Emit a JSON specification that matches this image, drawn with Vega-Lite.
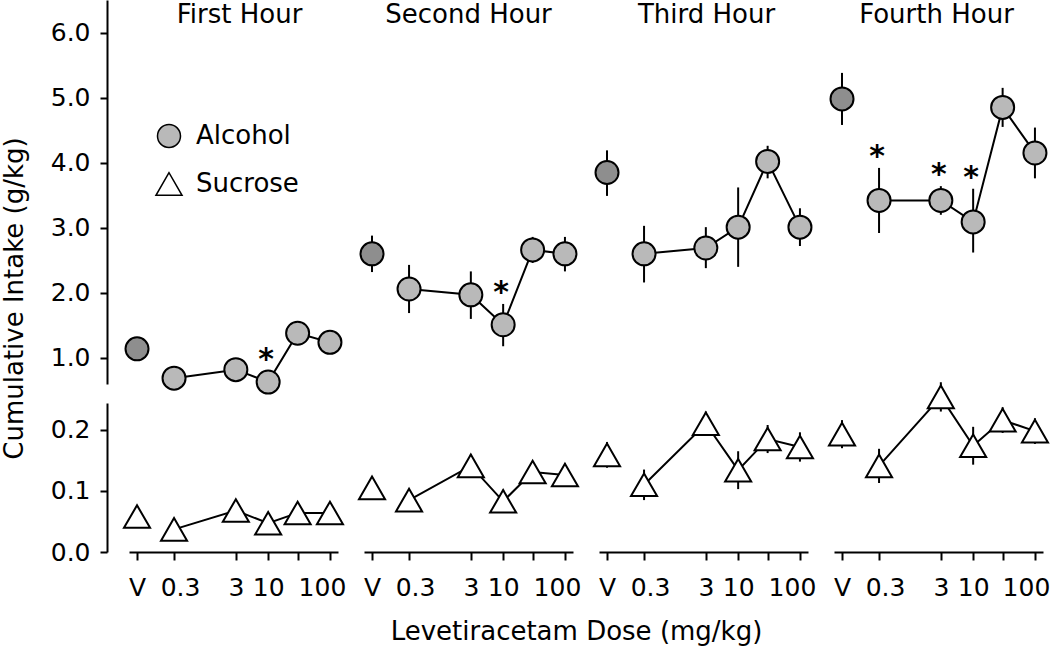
{
  "$schema": "https://vega.github.io/schema/vega-lite/v6.json",
  "padding": {"left": 1, "top": 0, "right": 5, "bottom": 5},
  "background": "white",
  "datasets": {
    "d": [
      {"hour": "First Hour", "substance": "Alcohol", "lab": "V", "dose": 0.0755, "mean": 1.14, "lo": 1.06, "hi": 1.22, "sig": false},
      {"hour": "First Hour", "substance": "Alcohol", "lab": "0.3", "dose": 0.3, "mean": 0.69, "lo": 0.61, "hi": 0.77, "sig": false},
      {"hour": "First Hour", "substance": "Alcohol", "lab": "3", "dose": 3, "mean": 0.82, "lo": 0.74, "hi": 0.9, "sig": false},
      {"hour": "First Hour", "substance": "Alcohol", "lab": "10", "dose": 10, "mean": 0.63, "lo": 0.46, "hi": 0.8, "sig": true},
      {"hour": "First Hour", "substance": "Alcohol", "lab": "30", "dose": 30, "mean": 1.38, "lo": 1.3, "hi": 1.46, "sig": false},
      {"hour": "First Hour", "substance": "Alcohol", "lab": "100", "dose": 100, "mean": 1.24, "lo": 1.16, "hi": 1.32, "sig": false},
      {"hour": "Second Hour", "substance": "Alcohol", "lab": "V", "dose": 0.0755, "mean": 2.6, "lo": 2.32, "hi": 2.88, "sig": false},
      {"hour": "Second Hour", "substance": "Alcohol", "lab": "0.3", "dose": 0.3, "mean": 2.06, "lo": 1.69, "hi": 2.43, "sig": false},
      {"hour": "Second Hour", "substance": "Alcohol", "lab": "3", "dose": 3, "mean": 1.97, "lo": 1.6, "hi": 2.33, "sig": false},
      {"hour": "Second Hour", "substance": "Alcohol", "lab": "10", "dose": 10, "mean": 1.51, "lo": 1.18, "hi": 1.83, "sig": true},
      {"hour": "Second Hour", "substance": "Alcohol", "lab": "30", "dose": 30, "mean": 2.66, "lo": 2.46, "hi": 2.86, "sig": false},
      {"hour": "Second Hour", "substance": "Alcohol", "lab": "100", "dose": 100, "mean": 2.6, "lo": 2.33, "hi": 2.86, "sig": false},
      {"hour": "Third Hour", "substance": "Alcohol", "lab": "V", "dose": 0.0755, "mean": 3.85, "lo": 3.49, "hi": 4.19, "sig": false},
      {"hour": "Third Hour", "substance": "Alcohol", "lab": "0.3", "dose": 0.3, "mean": 2.6, "lo": 2.16, "hi": 3.03, "sig": false},
      {"hour": "Third Hour", "substance": "Alcohol", "lab": "3", "dose": 3, "mean": 2.69, "lo": 2.38, "hi": 3.01, "sig": false},
      {"hour": "Third Hour", "substance": "Alcohol", "lab": "10", "dose": 10, "mean": 3.01, "lo": 2.4, "hi": 3.62, "sig": false},
      {"hour": "Third Hour", "substance": "Alcohol", "lab": "30", "dose": 30, "mean": 4.02, "lo": 3.76, "hi": 4.26, "sig": false},
      {"hour": "Third Hour", "substance": "Alcohol", "lab": "100", "dose": 100, "mean": 3.01, "lo": 2.72, "hi": 3.3, "sig": false},
      {"hour": "Fourth Hour", "substance": "Alcohol", "lab": "V", "dose": 0.0755, "mean": 4.98, "lo": 4.58, "hi": 5.38, "sig": false},
      {"hour": "Fourth Hour", "substance": "Alcohol", "lab": "0.3", "dose": 0.3, "mean": 3.42, "lo": 2.92, "hi": 3.92, "sig": true},
      {"hour": "Fourth Hour", "substance": "Alcohol", "lab": "3", "dose": 3, "mean": 3.42, "lo": 3.2, "hi": 3.64, "sig": true},
      {"hour": "Fourth Hour", "substance": "Alcohol", "lab": "10", "dose": 10, "mean": 3.09, "lo": 2.62, "hi": 3.6, "sig": true},
      {"hour": "Fourth Hour", "substance": "Alcohol", "lab": "30", "dose": 30, "mean": 4.85, "lo": 4.55, "hi": 5.15, "sig": false},
      {"hour": "Fourth Hour", "substance": "Alcohol", "lab": "100", "dose": 100, "mean": 4.15, "lo": 3.76, "hi": 4.54, "sig": false},
      {"hour": "First Hour", "substance": "Sucrose", "lab": "V", "dose": 0.0755, "mean": 0.058, "lo": 0.05, "hi": 0.066, "sig": false},
      {"hour": "First Hour", "substance": "Sucrose", "lab": "0.3", "dose": 0.3, "mean": 0.037, "lo": 0.03, "hi": 0.044, "sig": false},
      {"hour": "First Hour", "substance": "Sucrose", "lab": "3", "dose": 3, "mean": 0.068, "lo": 0.06, "hi": 0.076, "sig": false},
      {"hour": "First Hour", "substance": "Sucrose", "lab": "10", "dose": 10, "mean": 0.047, "lo": 0.04, "hi": 0.054, "sig": false},
      {"hour": "First Hour", "substance": "Sucrose", "lab": "30", "dose": 30, "mean": 0.064, "lo": 0.056, "hi": 0.072, "sig": false},
      {"hour": "First Hour", "substance": "Sucrose", "lab": "100", "dose": 100, "mean": 0.064, "lo": 0.057, "hi": 0.071, "sig": false},
      {"hour": "Second Hour", "substance": "Sucrose", "lab": "V", "dose": 0.0755, "mean": 0.105, "lo": 0.096, "hi": 0.114, "sig": false},
      {"hour": "Second Hour", "substance": "Sucrose", "lab": "0.3", "dose": 0.3, "mean": 0.085, "lo": 0.068, "hi": 0.102, "sig": false},
      {"hour": "Second Hour", "substance": "Sucrose", "lab": "3", "dose": 3, "mean": 0.141, "lo": 0.122, "hi": 0.16, "sig": false},
      {"hour": "Second Hour", "substance": "Sucrose", "lab": "10", "dose": 10, "mean": 0.083, "lo": 0.064, "hi": 0.102, "sig": false},
      {"hour": "Second Hour", "substance": "Sucrose", "lab": "30", "dose": 30, "mean": 0.131, "lo": 0.114, "hi": 0.148, "sig": false},
      {"hour": "Second Hour", "substance": "Sucrose", "lab": "100", "dose": 100, "mean": 0.126, "lo": 0.107, "hi": 0.145, "sig": false},
      {"hour": "Third Hour", "substance": "Sucrose", "lab": "V", "dose": 0.0755, "mean": 0.159, "lo": 0.138, "hi": 0.18, "sig": false},
      {"hour": "Third Hour", "substance": "Sucrose", "lab": "0.3", "dose": 0.3, "mean": 0.11, "lo": 0.085, "hi": 0.135, "sig": false},
      {"hour": "Third Hour", "substance": "Sucrose", "lab": "3", "dose": 3, "mean": 0.21, "lo": 0.19, "hi": 0.23, "sig": false},
      {"hour": "Third Hour", "substance": "Sucrose", "lab": "10", "dose": 10, "mean": 0.134, "lo": 0.103, "hi": 0.165, "sig": false},
      {"hour": "Third Hour", "substance": "Sucrose", "lab": "30", "dose": 30, "mean": 0.185, "lo": 0.162, "hi": 0.208, "sig": false},
      {"hour": "Third Hour", "substance": "Sucrose", "lab": "100", "dose": 100, "mean": 0.172, "lo": 0.148, "hi": 0.196, "sig": false},
      {"hour": "Fourth Hour", "substance": "Sucrose", "lab": "V", "dose": 0.0755, "mean": 0.193, "lo": 0.17, "hi": 0.216, "sig": false},
      {"hour": "Fourth Hour", "substance": "Sucrose", "lab": "0.3", "dose": 0.3, "mean": 0.141, "lo": 0.113, "hi": 0.169, "sig": false},
      {"hour": "Fourth Hour", "substance": "Sucrose", "lab": "3", "dose": 3, "mean": 0.254, "lo": 0.23, "hi": 0.278, "sig": false},
      {"hour": "Fourth Hour", "substance": "Sucrose", "lab": "10", "dose": 10, "mean": 0.174, "lo": 0.143, "hi": 0.205, "sig": false},
      {"hour": "Fourth Hour", "substance": "Sucrose", "lab": "30", "dose": 30, "mean": 0.216, "lo": 0.195, "hi": 0.237, "sig": false},
      {"hour": "Fourth Hour", "substance": "Sucrose", "lab": "100", "dose": 100, "mean": 0.198, "lo": 0.177, "hi": 0.219, "sig": false}
    ]
  },
  "columns": 4,
  "spacing": {"row": 19, "column": 26},
  "bounds": "flush",
  "concat": [
    {
      "width": 209, "height": 384,
      "data": {"name": "d"},
      "transform": [{"filter": "datum.hour === 'First Hour' && datum.substance === 'Alcohol'"}],
      "encoding": {"x": {"field": "dose", "type": "quantitative", "scale": {"type": "log", "domain": [0.056, 135], "nice": false}, "axis": null}},
      "layer": [
        {"mark": {"type": "rule", "strokeWidth": 2, "color": "black"},
         "encoding": {"y": {"field": "lo", "type": "quantitative", "scale": {"domain": [0.6, 6.5], "nice": false, "zero": false},
           "axis": {"values": [1, 2, 3, 4, 5, 6], "format": ".1f", "offset": 22, "tickSize": 7, "labelPadding": 10, "title": "Cumulative Intake (g/kg)", "titleX": -85, "titleY": 298, "titleBaseline": "alphabetic", "titleAngle": 270, "titleAlign": "center"}},
           "y2": {"field": "hi"}}},
        {"transform": [{"filter": "datum.lab !== 'V'"}], "mark": {"type": "line", "strokeWidth": 2, "color": "black"}, "encoding": {"y": {"field": "mean", "type": "quantitative"}}},
        {"mark": {"type": "point", "filled": true, "opacity": 1, "stroke": "black", "strokeWidth": 2},
         "encoding": {"y": {"field": "mean", "type": "quantitative"},
           "shape": {"field": "substance", "type": "nominal", "scale": {"domain": ["Alcohol", "Sucrose"], "range": ["circle", "triangle-up"]}, "legend": {"title": null, "orient": "none", "legendX": 26, "legendY": 123, "direction": "vertical", "labelFontSize": 26, "labelFont": "DejaVu Sans", "labelColor": "black", "labelOffset": 13, "rowPadding": 18, "encode": {"symbols": {"update": {"stroke": {"value": "black"}, "strokeWidth": {"value": 2}}}}}},
           "fill": {"field": "substance", "type": "nominal", "scale": {"domain": ["Alcohol", "Sucrose"], "range": ["#b9b9b9", "#ffffff"]}, "condition": {"test": "datum.lab === 'V'", "value": "#8e8e8e"}, "legend": {"title": null, "orient": "none", "legendX": 26, "legendY": 123, "direction": "vertical", "labelFontSize": 26, "labelFont": "DejaVu Sans", "labelColor": "black", "labelOffset": 13, "rowPadding": 18, "encode": {"symbols": {"update": {"stroke": {"value": "black"}, "strokeWidth": {"value": 2}}}}}},
           "size": {"field": "substance", "type": "nominal", "scale": {"type": "ordinal", "domain": ["Alcohol", "Sucrose"], "range": [530, 680]}, "legend": {"title": null, "orient": "none", "legendX": 26, "legendY": 123, "direction": "vertical", "labelFontSize": 26, "labelFont": "DejaVu Sans", "labelColor": "black", "labelOffset": 13, "rowPadding": 18, "encode": {"symbols": {"update": {"stroke": {"value": "black"}, "strokeWidth": {"value": 2}}}}}}}},
        {"transform": [{"filter": "datum.sig"}], "mark": {"type": "text", "text": "*", "fontSize": 30, "fontWeight": "bold", "baseline": "alphabetic", "dy": -2, "dx": -2, "color": "black"}, "encoding": {"y": {"field": "hi", "type": "quantitative"}}},
        {"transform": [{"filter": "datum.lab === 'V'"}], "mark": {"type": "text", "fontSize": 26, "baseline": "alphabetic", "dy": 23, "dx": 6, "color": "black"}, "encoding": {"x": {"datum": 2.75}, "y": {"datum": 6.5}, "text": {"field": "hour"}}}
      ]
    },
    {
      "width": 209, "height": 384,
      "data": {"name": "d"},
      "transform": [{"filter": "datum.hour === 'Second Hour' && datum.substance === 'Alcohol'"}],
      "encoding": {"x": {"field": "dose", "type": "quantitative", "scale": {"type": "log", "domain": [0.056, 135], "nice": false}, "axis": null}},
      "layer": [
        {"mark": {"type": "rule", "strokeWidth": 2, "color": "black"},
         "encoding": {"y": {"field": "lo", "type": "quantitative", "scale": {"domain": [0.6, 6.5], "nice": false, "zero": false}, "axis": null}, "y2": {"field": "hi"}}},
        {"transform": [{"filter": "datum.lab !== 'V'"}], "mark": {"type": "line", "strokeWidth": 2, "color": "black"}, "encoding": {"y": {"field": "mean", "type": "quantitative", "axis": null}}},
        {"mark": {"type": "point", "filled": true, "opacity": 1, "stroke": "black", "strokeWidth": 2},
         "encoding": {"y": {"field": "mean", "type": "quantitative", "axis": null},
           "shape": {"field": "substance", "type": "nominal", "scale": {"domain": ["Alcohol", "Sucrose"], "range": ["circle", "triangle-up"]}},
           "fill": {"field": "substance", "type": "nominal", "scale": {"domain": ["Alcohol", "Sucrose"], "range": ["#b9b9b9", "#ffffff"]}, "condition": {"test": "datum.lab === 'V'", "value": "#8e8e8e"}},
           "size": {"field": "substance", "type": "nominal", "scale": {"type": "ordinal", "domain": ["Alcohol", "Sucrose"], "range": [530, 680]}}}},
        {"transform": [{"filter": "datum.sig"}], "mark": {"type": "text", "text": "*", "fontSize": 30, "fontWeight": "bold", "baseline": "alphabetic", "dy": -2, "dx": -2, "color": "black"}, "encoding": {"y": {"field": "hi", "type": "quantitative", "axis": null}}},
        {"transform": [{"filter": "datum.lab === 'V'"}], "mark": {"type": "text", "fontSize": 26, "baseline": "alphabetic", "dy": 23, "dx": 0, "color": "black"}, "encoding": {"x": {"datum": 2.75}, "y": {"datum": 6.5, "axis": null}, "text": {"field": "hour"}}}
      ]
    },
    {
      "width": 209, "height": 384,
      "data": {"name": "d"},
      "transform": [{"filter": "datum.hour === 'Third Hour' && datum.substance === 'Alcohol'"}],
      "encoding": {"x": {"field": "dose", "type": "quantitative", "scale": {"type": "log", "domain": [0.056, 135], "nice": false}, "axis": null}},
      "layer": [
        {"mark": {"type": "rule", "strokeWidth": 2, "color": "black"},
         "encoding": {"y": {"field": "lo", "type": "quantitative", "scale": {"domain": [0.6, 6.5], "nice": false, "zero": false}, "axis": null}, "y2": {"field": "hi"}}},
        {"transform": [{"filter": "datum.lab !== 'V'"}], "mark": {"type": "line", "strokeWidth": 2, "color": "black"}, "encoding": {"y": {"field": "mean", "type": "quantitative", "axis": null}}},
        {"mark": {"type": "point", "filled": true, "opacity": 1, "stroke": "black", "strokeWidth": 2},
         "encoding": {"y": {"field": "mean", "type": "quantitative", "axis": null},
           "shape": {"field": "substance", "type": "nominal", "scale": {"domain": ["Alcohol", "Sucrose"], "range": ["circle", "triangle-up"]}},
           "fill": {"field": "substance", "type": "nominal", "scale": {"domain": ["Alcohol", "Sucrose"], "range": ["#b9b9b9", "#ffffff"]}, "condition": {"test": "datum.lab === 'V'", "value": "#8e8e8e"}},
           "size": {"field": "substance", "type": "nominal", "scale": {"type": "ordinal", "domain": ["Alcohol", "Sucrose"], "range": [530, 680]}}}},
        {"transform": [{"filter": "datum.sig"}], "mark": {"type": "text", "text": "*", "fontSize": 30, "fontWeight": "bold", "baseline": "alphabetic", "dy": -2, "dx": -2, "color": "black"}, "encoding": {"y": {"field": "hi", "type": "quantitative", "axis": null}}},
        {"transform": [{"filter": "datum.lab === 'V'"}], "mark": {"type": "text", "fontSize": 26, "baseline": "alphabetic", "dy": 23, "dx": 3, "color": "black"}, "encoding": {"x": {"datum": 2.75}, "y": {"datum": 6.5, "axis": null}, "text": {"field": "hour"}}}
      ]
    },
    {
      "width": 209, "height": 384,
      "data": {"name": "d"},
      "transform": [{"filter": "datum.hour === 'Fourth Hour' && datum.substance === 'Alcohol'"}],
      "encoding": {"x": {"field": "dose", "type": "quantitative", "scale": {"type": "log", "domain": [0.056, 135], "nice": false}, "axis": null}},
      "layer": [
        {"mark": {"type": "rule", "strokeWidth": 2, "color": "black"},
         "encoding": {"y": {"field": "lo", "type": "quantitative", "scale": {"domain": [0.6, 6.5], "nice": false, "zero": false}, "axis": null}, "y2": {"field": "hi"}}},
        {"transform": [{"filter": "datum.lab !== 'V'"}], "mark": {"type": "line", "strokeWidth": 2, "color": "black"}, "encoding": {"y": {"field": "mean", "type": "quantitative", "axis": null}}},
        {"mark": {"type": "point", "filled": true, "opacity": 1, "stroke": "black", "strokeWidth": 2},
         "encoding": {"y": {"field": "mean", "type": "quantitative", "axis": null},
           "shape": {"field": "substance", "type": "nominal", "scale": {"domain": ["Alcohol", "Sucrose"], "range": ["circle", "triangle-up"]}},
           "fill": {"field": "substance", "type": "nominal", "scale": {"domain": ["Alcohol", "Sucrose"], "range": ["#b9b9b9", "#ffffff"]}, "condition": {"test": "datum.lab === 'V'", "value": "#8e8e8e"}},
           "size": {"field": "substance", "type": "nominal", "scale": {"type": "ordinal", "domain": ["Alcohol", "Sucrose"], "range": [530, 680]}}}},
        {"transform": [{"filter": "datum.sig"}], "mark": {"type": "text", "text": "*", "fontSize": 30, "fontWeight": "bold", "baseline": "alphabetic", "dy": -2, "dx": -2, "color": "black"}, "encoding": {"y": {"field": "hi", "type": "quantitative", "axis": null}}},
        {"transform": [{"filter": "datum.lab === 'V'"}], "mark": {"type": "text", "fontSize": 26, "baseline": "alphabetic", "dy": 23, "dx": -2, "color": "black"}, "encoding": {"x": {"datum": 2.75}, "y": {"datum": 6.5, "axis": null}, "text": {"field": "hour"}}}
      ]
    },
    {
      "width": 209, "height": 149,
      "data": {"name": "d"},
      "transform": [{"filter": "datum.hour === 'First Hour' && datum.substance === 'Sucrose'"}],
      "encoding": {"x": {"field": "dose", "type": "quantitative", "scale": {"type": "log", "domain": [0.056, 135], "nice": false},
        "axis": {"values": [0.0755, 0.3, 3, 10, 30, 100], "format": "~g", "labelExpr": "datum.value < 0.1 ? 'V' : datum.value === 30 ? '' : datum.label", "tickSize": 8, "labelPadding": 15, "labelFlush": false, "labelOverlap": false, "labelBound": false, "title": null, "labelOffset": {"condition": [{"test": "datum.value === 100", "value": -8}, {"test": "datum.value === 0.3", "value": 6}], "value": 0}}}},
      "layer": [
        {"mark": {"type": "rule", "strokeWidth": 2, "color": "black"},
         "encoding": {"y": {"field": "lo", "type": "quantitative", "scale": {"domain": [0, 0.244], "nice": false, "zero": false},
           "axis": {"values": [0, 0.1, 0.2], "format": ".1f", "offset": 22, "tickSize": 7, "labelPadding": 10, "title": null}}, "y2": {"field": "hi"}}},
        {"transform": [{"filter": "datum.lab !== 'V'"}], "mark": {"type": "line", "strokeWidth": 2, "color": "black"}, "encoding": {"y": {"field": "mean", "type": "quantitative"}}},
        {"mark": {"type": "point", "filled": true, "opacity": 1, "stroke": "black", "strokeWidth": 2},
         "encoding": {"y": {"field": "mean", "type": "quantitative"},
           "shape": {"field": "substance", "type": "nominal", "scale": {"domain": ["Alcohol", "Sucrose"], "range": ["circle", "triangle-up"]}},
           "fill": {"field": "substance", "type": "nominal", "scale": {"domain": ["Alcohol", "Sucrose"], "range": ["#b9b9b9", "#ffffff"]}, "condition": {"test": "datum.lab === 'V' && datum.substance === 'Alcohol'", "value": "#8e8e8e"}},
           "size": {"field": "substance", "type": "nominal", "scale": {"type": "ordinal", "domain": ["Alcohol", "Sucrose"], "range": [530, 680]}}}}
      ]
    },
    {
      "width": 209, "height": 149,
      "data": {"name": "d"},
      "transform": [{"filter": "datum.hour === 'Second Hour' && datum.substance === 'Sucrose'"}],
      "encoding": {"x": {"field": "dose", "type": "quantitative", "scale": {"type": "log", "domain": [0.056, 135], "nice": false},
        "axis": {"values": [0.0755, 0.3, 3, 10, 30, 100], "format": "~g", "labelExpr": "datum.value < 0.1 ? 'V' : datum.value === 30 ? '' : datum.label", "tickSize": 8, "labelPadding": 15, "labelFlush": false, "labelOverlap": false, "labelBound": false, "title": "Levetiracetam Dose (mg/kg)", "titleX": 212, "titleY": 87, "titleBaseline": "alphabetic", "titleAlign": "center", "labelOffset": {"condition": [{"test": "datum.value === 100", "value": -8}, {"test": "datum.value === 0.3", "value": 6}], "value": 0}}}},
      "layer": [
        {"mark": {"type": "rule", "strokeWidth": 2, "color": "black"},
         "encoding": {"y": {"field": "lo", "type": "quantitative", "scale": {"domain": [0, 0.244], "nice": false, "zero": false}, "axis": null}, "y2": {"field": "hi"}}},
        {"transform": [{"filter": "datum.lab !== 'V'"}], "mark": {"type": "line", "strokeWidth": 2, "color": "black"}, "encoding": {"y": {"field": "mean", "type": "quantitative", "axis": null}}},
        {"mark": {"type": "point", "filled": true, "opacity": 1, "stroke": "black", "strokeWidth": 2},
         "encoding": {"y": {"field": "mean", "type": "quantitative", "axis": null},
           "shape": {"field": "substance", "type": "nominal", "scale": {"domain": ["Alcohol", "Sucrose"], "range": ["circle", "triangle-up"]}},
           "fill": {"field": "substance", "type": "nominal", "scale": {"domain": ["Alcohol", "Sucrose"], "range": ["#b9b9b9", "#ffffff"]}, "condition": {"test": "datum.lab === 'V' && datum.substance === 'Alcohol'", "value": "#8e8e8e"}},
           "size": {"field": "substance", "type": "nominal", "scale": {"type": "ordinal", "domain": ["Alcohol", "Sucrose"], "range": [530, 680]}}}}
      ]
    },
    {
      "width": 209, "height": 149,
      "data": {"name": "d"},
      "transform": [{"filter": "datum.hour === 'Third Hour' && datum.substance === 'Sucrose'"}],
      "encoding": {"x": {"field": "dose", "type": "quantitative", "scale": {"type": "log", "domain": [0.056, 135], "nice": false},
        "axis": {"values": [0.0755, 0.3, 3, 10, 30, 100], "format": "~g", "labelExpr": "datum.value < 0.1 ? 'V' : datum.value === 30 ? '' : datum.label", "tickSize": 8, "labelPadding": 15, "labelFlush": false, "labelOverlap": false, "labelBound": false, "title": null, "labelOffset": {"condition": [{"test": "datum.value === 100", "value": -8}, {"test": "datum.value === 0.3", "value": 6}], "value": 0}}}},
      "layer": [
        {"mark": {"type": "rule", "strokeWidth": 2, "color": "black"},
         "encoding": {"y": {"field": "lo", "type": "quantitative", "scale": {"domain": [0, 0.244], "nice": false, "zero": false}, "axis": null}, "y2": {"field": "hi"}}},
        {"transform": [{"filter": "datum.lab !== 'V'"}], "mark": {"type": "line", "strokeWidth": 2, "color": "black"}, "encoding": {"y": {"field": "mean", "type": "quantitative", "axis": null}}},
        {"mark": {"type": "point", "filled": true, "opacity": 1, "stroke": "black", "strokeWidth": 2},
         "encoding": {"y": {"field": "mean", "type": "quantitative", "axis": null},
           "shape": {"field": "substance", "type": "nominal", "scale": {"domain": ["Alcohol", "Sucrose"], "range": ["circle", "triangle-up"]}},
           "fill": {"field": "substance", "type": "nominal", "scale": {"domain": ["Alcohol", "Sucrose"], "range": ["#b9b9b9", "#ffffff"]}, "condition": {"test": "datum.lab === 'V' && datum.substance === 'Alcohol'", "value": "#8e8e8e"}},
           "size": {"field": "substance", "type": "nominal", "scale": {"type": "ordinal", "domain": ["Alcohol", "Sucrose"], "range": [530, 680]}}}}
      ]
    },
    {
      "width": 209, "height": 149,
      "data": {"name": "d"},
      "transform": [{"filter": "datum.hour === 'Fourth Hour' && datum.substance === 'Sucrose'"}],
      "encoding": {"x": {"field": "dose", "type": "quantitative", "scale": {"type": "log", "domain": [0.056, 135], "nice": false},
        "axis": {"values": [0.0755, 0.3, 3, 10, 30, 100], "format": "~g", "labelExpr": "datum.value < 0.1 ? 'V' : datum.value === 30 ? '' : datum.label", "tickSize": 8, "labelPadding": 15, "labelFlush": false, "labelOverlap": false, "labelBound": false, "title": null, "labelOffset": {"condition": [{"test": "datum.value === 100", "value": -9}, {"test": "datum.value === 0.3", "value": 6}], "value": 0}}}},
      "layer": [
        {"mark": {"type": "rule", "strokeWidth": 2, "color": "black"},
         "encoding": {"y": {"field": "lo", "type": "quantitative", "scale": {"domain": [0, 0.244], "nice": false, "zero": false}, "axis": null}, "y2": {"field": "hi"}}},
        {"transform": [{"filter": "datum.lab !== 'V'"}], "mark": {"type": "line", "strokeWidth": 2, "color": "black"}, "encoding": {"y": {"field": "mean", "type": "quantitative", "axis": null}}},
        {"mark": {"type": "point", "filled": true, "opacity": 1, "stroke": "black", "strokeWidth": 2},
         "encoding": {"y": {"field": "mean", "type": "quantitative", "axis": null},
           "shape": {"field": "substance", "type": "nominal", "scale": {"domain": ["Alcohol", "Sucrose"], "range": ["circle", "triangle-up"]}},
           "fill": {"field": "substance", "type": "nominal", "scale": {"domain": ["Alcohol", "Sucrose"], "range": ["#b9b9b9", "#ffffff"]}, "condition": {"test": "datum.lab === 'V' && datum.substance === 'Alcohol'", "value": "#8e8e8e"}},
           "size": {"field": "substance", "type": "nominal", "scale": {"type": "ordinal", "domain": ["Alcohol", "Sucrose"], "range": [530, 680]}}}}
      ]
    }
  ],
  "config": {
    "view": {"stroke": null},
    "font": "DejaVu Sans",
    "axis": {"domainColor": "black", "domainWidth": 2, "tickColor": "black", "tickWidth": 2, "labelColor": "black", "labelFont": "DejaVu Sans", "labelFontSize": 25, "titleFont": "DejaVu Sans", "titleFontSize": 26, "titleFontWeight": "normal", "titleColor": "black", "grid": false},
    "title": {"font": "DejaVu Sans", "fontSize": 26, "fontWeight": "normal", "color": "black"},
    "text": {"font": "DejaVu Sans"}
  }
}
